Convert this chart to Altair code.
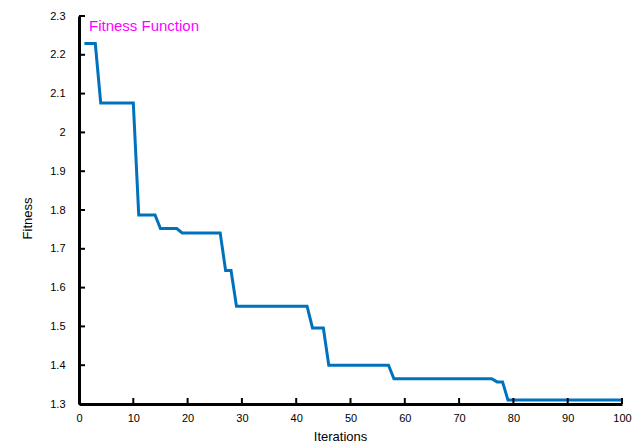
import altair as alt
import pandas as pd

# Step-wise best fitness per iteration (breakpoints)
iters = [1, 3, 4, 10, 11, 14, 15, 18, 19, 26, 27, 28, 29, 42, 43, 45, 46, 57, 58, 76, 77, 78, 79, 100]
fitness = [2.229, 2.229, 2.076, 2.076, 1.787, 1.787, 1.752, 1.752, 1.741, 1.741,
           1.644, 1.644, 1.552, 1.552, 1.496, 1.496, 1.400, 1.400, 1.365, 1.365,
           1.357, 1.357, 1.310, 1.310]
x_ticks = [0, 10, 20, 30, 40, 50, 60, 70, 80, 90, 100]
y_ticks = [1.3, 1.4, 1.5, 1.6, 1.7, 1.8, 1.9, 2.0, 2.1, 2.2, 2.3]
title_text = ["Fitness Function"]

W, H = 543, 388
FONT = "Liberation Sans"

df = pd.DataFrame({"Iterations": iters, "Fitness": fitness})
xt = pd.DataFrame({"Iterations": x_ticks})
yt = pd.DataFrame({"Fitness": y_ticks})
tt = pd.DataFrame({"label": title_text})

xscale = alt.Scale(domain=[0, 100], nice=False, zero=False)
yscale = alt.Scale(domain=[1.3, 2.3], nice=False, zero=False)

xaxis = alt.Axis(values=x_ticks, title="Iterations", labelPadding=8,
                 labelFlush=False, labelOverlap=False,
                 titlePadding=7, titleX=261)
yaxis = alt.Axis(values=y_ticks, format="~g", title="Fitness",
                 labelPadding=14, labelFlush=False, labelOverlap=False,
                 titleX=-52, titleY=202, titleBaseline="middle")

line = alt.Chart(df).mark_line(color="#0072BD", strokeWidth=3, clip=True).encode(
    x=alt.X("Iterations:Q", scale=xscale, axis=xaxis),
    y=alt.Y("Fitness:Q", scale=yscale, axis=yaxis),
)

xticks = alt.Chart(xt).mark_rule(color="black", strokeWidth=2).encode(
    x=alt.X("Iterations:Q", scale=xscale, axis=xaxis),
    y=alt.value(H),
    y2=alt.value(H - 6),
)
yticks = alt.Chart(yt).mark_rule(color="black", strokeWidth=2).encode(
    y=alt.Y("Fitness:Q", scale=yscale, axis=yaxis),
    x=alt.value(0),
    x2=alt.value(6),
)
title = alt.Chart(tt).mark_text(
    color="#FF00FF", fontSize=15, font=FONT, align="left", baseline="middle"
).encode(text="label:N", x=alt.value(10), y=alt.value(10))

chart = alt.layer(line, xticks, yticks, title).properties(
    width=W, height=H,
    autosize=alt.AutoSizeParams(type="none"),
    padding={"left": 79, "top": 16, "right": 14, "bottom": 41},
).configure_view(stroke=None).configure_axis(
    grid=False, ticks=False, domainColor="black", domainWidth=3,
    labelFont=FONT, labelFontSize=11, labelColor="black",
    titleFont=FONT, titleFontSize=13, titleColor="black", titleFontWeight="normal",
)

chart.save("out.html", embed_options={"renderer": "svg", "actions": False})
